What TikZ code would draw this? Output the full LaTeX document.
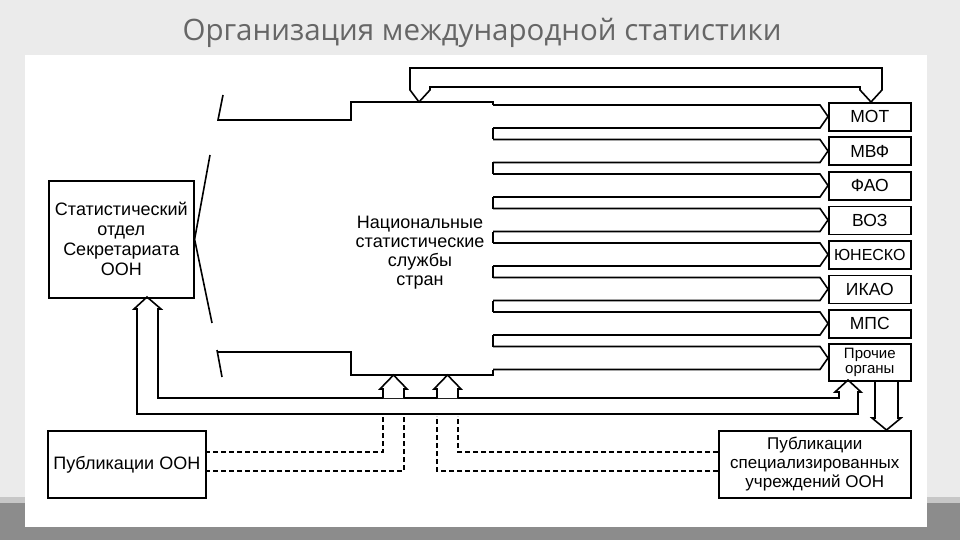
\documentclass[tikz,border=0pt]{standalone}
\usepackage{fontspec}
\setmainfont{Liberation Sans}
\newfontfamily\titlefont{Open Sans}
\begin{document}
\begin{tikzpicture}[x=1pt,y=-1pt,
  ln/.style={line width=1.6pt,line join=miter},
  org/.style={draw,line width=1.6pt,minimum width=82pt,minimum height=28pt,inner sep=0pt,font=\fontsize{17.5}{18}\selectfont,anchor=north west},
  big/.style={draw,line width=1.6pt,inner sep=0pt,align=center,font=\fontsize{18}{20}\selectfont,anchor=north west},
  dsh/.style={line width=1.4pt,dash pattern=on 5pt off 3pt}]
\useasboundingbox (0,0) rectangle (960,540);
\fill[black!8] (0,0) rectangle (960,540);
\fill[black!22] (0,497) rectangle (960,503);
\fill[black!45] (0,503) rectangle (960,540);
\fill[white] (25,55) rectangle (927,527);
\node[font=\titlefont\fontsize{29.5}{32}\selectfont,text=black!60] (title) at (482,33) {Организация международной статистики};
% national block top
\draw[ln] (223,95)--(218,120)--(351,120)--(351,102)--(493,102)--(493,105);
\foreach \i in {0,...,7}{
  \pgfmathsetmacro{\t}{105+34.5*\i}
  \pgfmathsetmacro{\b}{\t+23}
  \pgfmathsetmacro{\m}{\t+11.5}
  \draw[ln] (493,\t)--(820,\t)--(828,\m)--(820,\b)--(493,\b);
}
\foreach \i in {0,...,6}{
  \pgfmathsetmacro{\b}{128+34.5*\i}
  \pgfmathsetmacro{\n}{\b+11.5}
  \draw[ln] (493,\b)--(493,\n);
}
\draw[ln] (217,350)--(222,377);
\draw[ln] (217,352)--(351,352)--(351,375)--(493,375)--(493,369.5);
\node[align=center,font=\fontsize{18}{19}\selectfont] (nat) at (420,253) {Национальные\\статистические\\службы\\стран};
% boxes
\node[org] (mot) at (828,102) {МОТ};
\node[org] (mvf) at (828,136.5) {МВФ};
\node[org] (fao) at (828,171) {ФАО};
\node[org] (voz) at (828,205.5) {ВОЗ};
\node[org,font=\fontsize{16}{17}\selectfont] (unesco) at (828,240) {ЮНЕСКО};
\node[org] (ikao) at (828,274.5) {ИКАО};
\node[org] (mps) at (828,309) {МПС};
\node[org,minimum height=37pt,align=center,font=\fontsize{15}{15.5}\selectfont] (other) at (828,343) {Прочие\\органы};
\node[big,minimum width=145pt,minimum height=117pt] (stat) at (48,180) {Статистический\\отдел\\Секретариата\\ООН};
\node[big,minimum width=158pt,minimum height=67pt] (pubun) at (47,430) {Публикации ООН};
\node[big,minimum width=192pt,minimum height=67pt,font=\fontsize{17}{19}\selectfont] (pubsp) at (718,430) {Публикации\\специализированных\\учреждений ООН};
% fan
\draw[ln] (210,155)--(stat.east)--(212,323);
% top double arrow
\draw[ln] (419,102)--(410,90)--(410,68)--(882,68)--(882,90)--(871,102)--(860,90)--(860,87)--(430,87)--(430,90)--cycle;
% bottom loop
\draw[ln] (147,297)--(134,309)--(137,309)--(137,414)--(858,414)--(858,392)--(861,392)--(848,380)--(835,392)--(839,392)--(839,398)--(158,398)--(158,309)--(161,309)--cycle;
% up arrows into national block
\foreach \x in {383,437}{
  \draw[ln,fill=white] (\x,398)--(\x,389)--(\x-3,389)--(\x+10.5,375)--(\x+24,389)--(\x+21,389)--(\x+21,398);
}
% down arrow to specialized publications
\draw[ln] (875,380)--(875,418)--(872,418)--(886.5,430)--(901,418)--(898,418)--(898,380);
% dashed
\draw[dsh] (205,452)--(383,452)--(383,416);
\draw[dsh] (205,471)--(404,471)--(404,416);
\draw[dsh] (718,471)--(437,471)--(437,416);
\draw[dsh] (718,452)--(458,452)--(458,416);
\end{tikzpicture}
\end{document}
